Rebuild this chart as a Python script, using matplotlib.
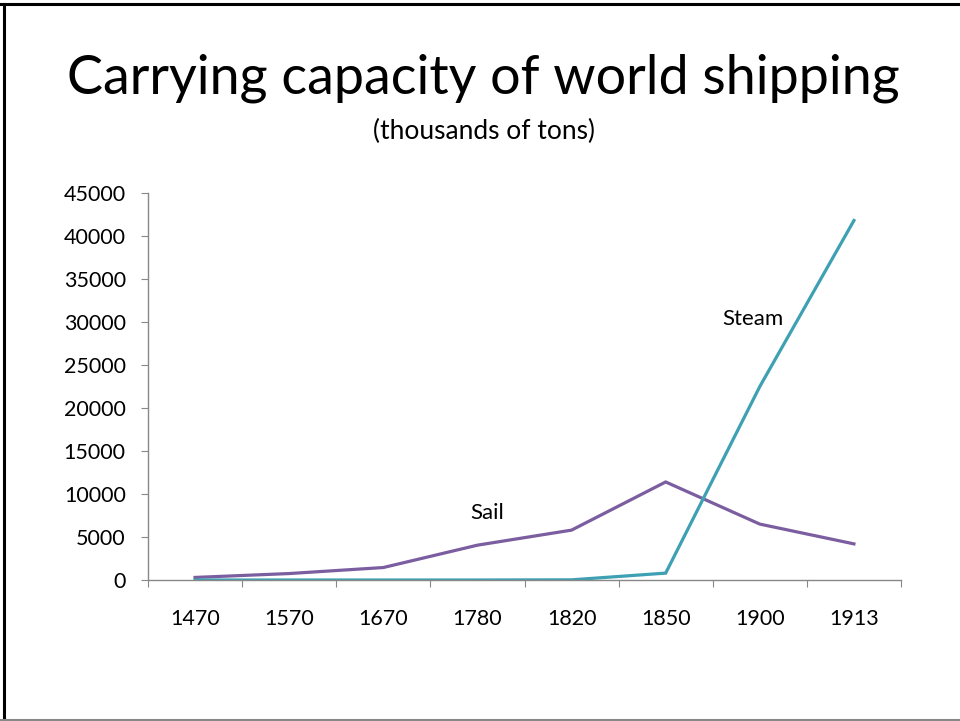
import matplotlib.pyplot as plt
from matplotlib.lines import Line2D

years = ["1470", "1570", "1670", "1780", "1820", "1850", "1900", "1913"]
sail = [300, 750, 1450, 4050, 5800, 11400, 6500, 4200]
steam = [0, 0, 0, 0, 20, 800, 22500, 41800]
y_ticks = list(range(0, 45001, 5000))

FONT = "Lato"

fig = plt.figure(figsize=(9.6, 7.21), dpi=100)

# slide border: black on top/left, grey at the bottom
fig.add_artist(Line2D([4/960, 4/960], [0, 1 - 4/721], color="black", lw=2.2))
fig.add_artist(Line2D([0, 1], [1 - 4/721, 1 - 4/721], color="black", lw=2.2))
fig.add_artist(Line2D([0, 1], [1/721, 1/721], color="#888888", lw=1.5))

fig.text(483/960, 1 - 78/721, "Carrying capacity of world shipping",
         ha="center", va="center", fontsize=38.8, family=FONT)
fig.text(484/960, 1 - 131/721, "(thousands of tons)",
         ha="center", va="center", fontsize=19, family=FONT)

ax = fig.add_axes([148/960, 1 - 580/721, (901 - 148)/960, (580 - 193)/721])
x = list(range(len(years)))
ax.plot(x, sail, color="#7B5EA0", lw=2.3, solid_joinstyle="miter")
ax.plot(x, steam, color="#3EA0B3", lw=2.3, solid_joinstyle="miter")

ax.set_xlim(-0.5, len(years) - 0.5)
ax.set_ylim(0, 45000)
ax.set_yticks(y_ticks)
ax.set_yticklabels([str(v) for v in y_ticks], family=FONT, fontsize=15.5)
ax.set_xticks([i + 0.5 for i in range(-1, len(years))])
ax.set_xticklabels([])
ax.set_xticks(x, minor=True)
ax.set_xticklabels(years, minor=True, family=FONT, fontsize=15.5)
ax.tick_params(axis="x", which="minor", length=0, pad=21)
ax.tick_params(axis="x", which="major", length=5, color="#888888", direction="out")
ax.tick_params(axis="y", length=5, color="#888888", pad=11)

for s in ["top", "right"]:
    ax.spines[s].set_visible(False)
for s in ["left", "bottom"]:
    ax.spines[s].set_color("#888888")
    ax.spines[s].set_linewidth(1)

ax.text(3.1, 7800, "Sail", fontsize=16, family=FONT, ha="center", va="center")
ax.text(5.93, 30300, "Steam", fontsize=16, family=FONT, ha="center", va="center")

fig.savefig("out.png", dpi=100)
